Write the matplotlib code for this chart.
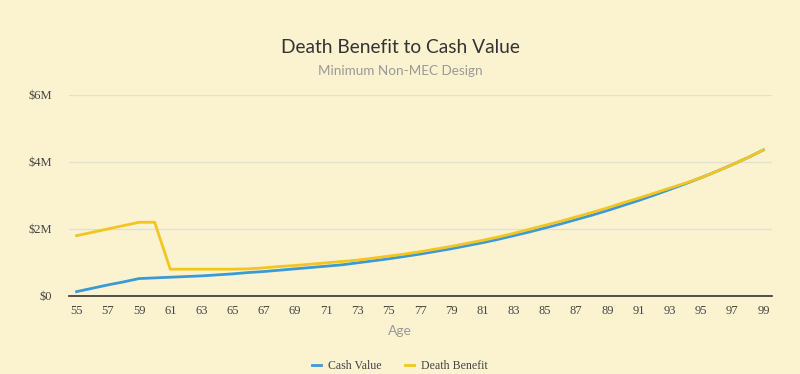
import matplotlib
matplotlib.use("Agg")
import matplotlib.pyplot as plt
from matplotlib.ticker import FuncFormatter
from matplotlib.lines import Line2D

# values in $ millions
ages = list(range(55, 100))
cash_value = [0.13, 0.23, 0.33, 0.42, 0.52, 0.54, 0.56, 0.58, 0.60, 0.63,
              0.66, 0.70, 0.73, 0.77, 0.81, 0.85, 0.89, 0.93, 0.99, 1.05,
              1.11, 1.18, 1.25, 1.33, 1.41, 1.50, 1.59, 1.69, 1.80, 1.91,
              2.03, 2.15, 2.28, 2.41, 2.55, 2.70, 2.85, 3.01, 3.18, 3.35,
              3.53, 3.72, 3.92, 4.13, 4.36]
death_benefit = [1.80, 1.90, 2.00, 2.10, 2.20, 2.20, 0.80, 0.80, 0.80, 0.80,
                 0.80, 0.81, 0.84, 0.88, 0.91, 0.95, 0.99, 1.03, 1.07, 1.13,
                 1.19, 1.25, 1.32, 1.40, 1.48, 1.57, 1.66, 1.76, 1.87, 1.99,
                 2.11, 2.23, 2.36, 2.49, 2.63, 2.78, 2.92, 3.07, 3.22, 3.37,
                 3.53, 3.72, 3.92, 4.13, 4.36]
x_ticks = list(range(55, 100, 2))
y_ticks = [0, 2, 4, 6]

bg = "#fbf3d0"
blue = "#3a9ad9"
yellow = "#f2c51f"

fig = plt.figure(figsize=(8, 3.74), dpi=100, facecolor=bg)
ax = fig.add_axes([0.086, 0.2086, 0.879, 0.5374], facecolor=bg)

ax.plot(ages, cash_value, color=blue, lw=2, zorder=3)
ax.plot(ages, death_benefit, color=yellow, lw=2, zorder=4)

ax.set_xlim(54.5, 99.55)
ax.set_ylim(0, 6)
ax.set_xticks(x_ticks)
ax.set_yticks(y_ticks)
ax.yaxis.set_major_formatter(FuncFormatter(lambda v, p: r"\$0" if v == 0 else r"\$%dM" % v))
ax.grid(axis="y", color="#e2dfd2", lw=1)
ax.set_axisbelow(True)
for s in ["top", "right", "left"]:
    ax.spines[s].set_visible(False)
ax.spines["bottom"].set_color("#333333")
ax.spines["bottom"].set_linewidth(1.2)
ax.spines["bottom"].set_zorder(5)
ax.tick_params(length=0, labelsize=9, labelcolor="#444444")
ax.tick_params(axis="y", pad=12)
ax.tick_params(axis="x", pad=6.5)
for lab in ax.get_xticklabels() + ax.get_yticklabels():
    lab.set_family("Liberation Serif")

fig.text(0.5, 0.872, "Death Benefit to Cash Value", ha="center", va="center",
         family="Lato", fontsize=13.8, color="#333333")
fig.text(0.5, 0.811, "Minimum Non-MEC Design", ha="center", va="center",
         family="Lato", fontsize=9.7, color="#999999")
fig.text(0.5, 0.115, "Age", ha="center", va="center",
         family="Lato", fontsize=10, color="#999999")

handles = [Line2D([], [], color=blue, lw=2), Line2D([], [], color=yellow, lw=2)]
fig.legend(handles, ["Cash Value", "Death Benefit"], loc="center",
           bbox_to_anchor=(0.5, 0.022), ncol=2, frameon=False,
           handlelength=0.7, columnspacing=2.0, handletextpad=0.6,
           prop={"family": "Liberation Serif", "size": 8.6}, labelcolor="#444444")

fig.savefig("out.png", dpi=100, facecolor=bg)
